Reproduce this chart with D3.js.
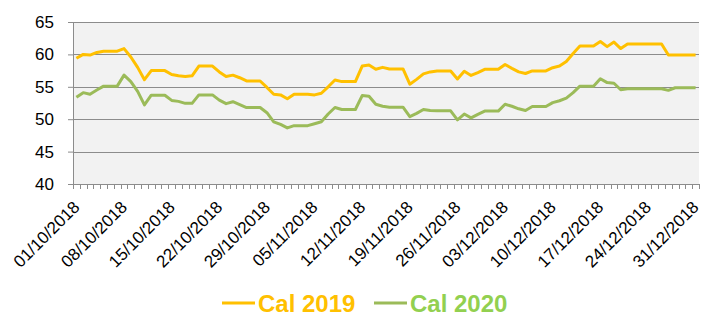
<!DOCTYPE html>
<html>
<head>
<meta charset="utf-8">
<script src="https://cdn.jsdelivr.net/npm/d3@7"></script>
<style>
  html, body { margin: 0; padding: 0; background: #ffffff; }
  svg { display: block; font-family: Arial, "Liberation Sans", sans-serif; }
</style>
</head>
<body>
<svg id="chart" width="719" height="327"></svg>
<script>
// Daily settlement prices, 1 Oct 2018 – 31 Dec 2018 (weekends carry the Friday value)
const startDate = "2018-10-01";
const endDate = "2018-12-31";

const cal2019 = [
  59.4, 60.0, 59.9, 60.3, 60.5, 60.5, 60.5, 60.9, 59.6, 58.0,
  56.1, 57.5, 57.5, 57.5, 56.9, 56.7, 56.6, 56.7, 58.2, 58.2,
  58.2, 57.3, 56.6, 56.8, 56.4, 55.9, 55.9, 55.9, 54.9, 53.85,
  53.75, 53.15, 53.85, 53.85, 53.85, 53.75, 54.0, 55.0, 56.05, 55.8,
  55.8, 55.8, 58.2, 58.35, 57.7, 58.0, 57.75, 57.75, 57.75, 55.4,
  56.15, 57.0, 57.3, 57.45, 57.45, 57.45, 56.2, 57.4, 56.75, 57.2,
  57.7, 57.7, 57.7, 58.45, 57.85, 57.3, 57.05, 57.45, 57.45, 57.45,
  57.95, 58.2, 58.9, 60.15, 61.3, 61.3, 61.3, 62.0, 61.2, 61.9,
  60.9, 61.6, 61.6, 61.6, 61.6, 61.6, 61.6, 59.9, 59.9, 59.9,
  59.9, 59.9
];

const cal2020 = [
  53.4, 54.1, 53.85, 54.5, 55.1, 55.1, 55.1, 56.8, 55.8, 54.3,
  52.2, 53.7, 53.7, 53.7, 52.9, 52.75, 52.45, 52.45, 53.75, 53.75,
  53.75, 52.95, 52.4, 52.7, 52.25, 51.8, 51.8, 51.8, 51.0, 49.6,
  49.2, 48.65, 49.0, 49.0, 49.0, 49.3, 49.6, 50.8, 51.8, 51.5,
  51.5, 51.5, 53.65, 53.55, 52.3, 52.0, 51.85, 51.85, 51.85, 50.4,
  50.9, 51.5, 51.35, 51.3, 51.3, 51.3, 49.9, 50.8, 50.2, 50.75,
  51.25, 51.25, 51.25, 52.3, 52.0, 51.6, 51.35, 51.95, 51.95, 51.95,
  52.55, 52.85, 53.25, 54.1, 55.1, 55.1, 55.1, 56.25, 55.65, 55.55,
  54.55, 54.7, 54.7, 54.7, 54.7, 54.7, 54.7, 54.45, 54.85, 54.85,
  54.85, 54.85
];

const yTicks = [40, 45, 50, 55, 60, 65];
const labelEvery = 7; // one date label per week

const seriesList = [
  { name: "Cal 2019", values: cal2019, line: "#FFC000", text: "#FFC000" },
  { name: "Cal 2020", values: cal2020, line: "#9BBB59", text: "#92D050" }
];

const dates = d3.utcDays(new Date(startDate), d3.utcDay.offset(new Date(endDate), 1));
const fmt = d3.utcFormat("%d/%m/%Y");

const plot = { left: 73, right: 699, top: 22, bottom: 184 };

const svg = d3.select("#chart");

const x = d3.scaleBand()
  .domain(dates)
  .range([plot.left, plot.right])
  .paddingInner(0)
  .paddingOuter(0);

const y = d3.scaleLinear()
  .domain([40, 65])
  .range([plot.bottom, plot.top]);

const cx = d => x(d) + x.bandwidth() / 2;

// plot area background
svg.append("rect")
  .attr("x", plot.left)
  .attr("y", plot.top)
  .attr("width", plot.right - plot.left)
  .attr("height", plot.bottom - plot.top)
  .attr("fill", "#F2F2F2");

// horizontal gridlines + left axis labels
const yAxis = d3.axisLeft(y)
  .tickValues(yTicks)
  .tickSize(5)
  .tickPadding(14)
  .tickFormat(d3.format("d"));

const gy = svg.append("g")
  .attr("transform", `translate(${plot.left},0)`)
  .call(yAxis);
gy.select(".domain").attr("stroke", "#8C8C8C").attr("stroke-width", 1);
gy.selectAll(".tick line").attr("stroke", "#8C8C8C");
gy.selectAll(".tick text")
  .attr("fill", "#000")
  .style("font-size", "17px");

svg.append("g")
  .selectAll("line")
  .data(yTicks.filter(v => v > 40))
  .join("line")
  .attr("x1", plot.left)
  .attr("x2", plot.right)
  .attr("y1", d => Math.round(y(d)) + 0.5)
  .attr("y2", d => Math.round(y(d)) + 0.5)
  .attr("stroke", "#8C8C8C")
  .attr("stroke-width", 1);

// bottom axis line with one tick per day boundary
const boundaries = dates.map(d => x(d)).concat([plot.right]);
const gx = svg.append("g");
gx.append("line")
  .attr("x1", plot.left)
  .attr("x2", plot.right)
  .attr("y1", plot.bottom + 0.5)
  .attr("y2", plot.bottom + 0.5)
  .attr("stroke", "#8C8C8C");
gx.selectAll("line.daytick")
  .data(boundaries)
  .join("line")
  .attr("class", "daytick")
  .attr("x1", d => Math.round(d) + 0.5)
  .attr("x2", d => Math.round(d) + 0.5)
  .attr("y1", plot.bottom)
  .attr("y2", plot.bottom + 5)
  .attr("stroke", "#8C8C8C");

// weekly date labels, rotated
const labelDates = dates.filter((d, i) => i % labelEvery === 0);
gx.selectAll("text")
  .data(labelDates)
  .join("text")
  .attr("transform", d => `translate(${cx(d)},${plot.bottom + 20}) rotate(-45)`)
  .attr("text-anchor", "end")
  .attr("dy", "0.35em")
  .attr("fill", "#000")
  .style("font-size", "17px")
  .text(d => fmt(d));

// series lines
const line = d3.line()
  .x((v, i) => cx(dates[i]))
  .y(v => y(v));

svg.append("g")
  .selectAll("path")
  .data(seriesList)
  .join("path")
  .attr("d", s => line(s.values))
  .attr("fill", "none")
  .attr("stroke", s => s.line)
  .attr("stroke-width", 3)
  .attr("stroke-linejoin", "round");

// legend
const legendPos = [222, 374];
const legend = svg.append("g");
const items = legend.selectAll("g")
  .data(seriesList)
  .join("g")
  .attr("transform", (s, i) => `translate(${legendPos[i]},303)`);
items.append("line")
  .attr("x1", 0)
  .attr("x2", 33)
  .attr("stroke", s => s.line)
  .attr("stroke-width", 3);
items.append("text")
  .attr("x", 36)
  .attr("y", 8.5)
  .attr("fill", s => s.text)
  .style("font-size", "24px")
  .style("font-weight", "bold")
  .text(s => s.name);
</script>
</body>
</html>
